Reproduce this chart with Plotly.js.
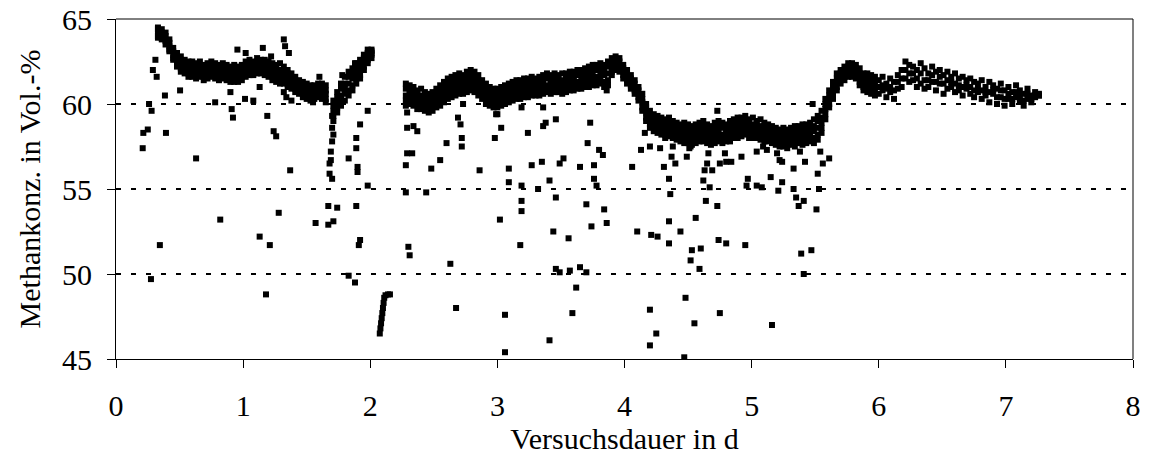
<!DOCTYPE html>
<html><head><meta charset="utf-8">
<script src="https://cdn.plot.ly/plotly-3.0.1.min.js"></script>
<style>html,body{margin:0;padding:0;background:#fff}#chart{width:1151px;height:463px}</style>
</head><body><div id="chart"></div>
<script>
// X axis / Y axis ticks
const xTicks = [0, 1, 2, 3, 4, 5, 6, 7, 8];
const yTicks = [45, 50, 55, 60, 65];

// Dense measurement band, segment 1 (0.33 - 1.65 d)
const days1 = [0.33,0.36,0.39,0.42,0.45,0.48,0.51,0.54,0.57,0.60,0.63,0.66,0.69,0.72,0.75,0.78,0.81,0.84,0.87,0.90,0.93,0.96,0.99,1.02,1.05,1.08,1.11,1.14,1.17,1.20,1.23,1.26,1.29,1.32,1.35,1.38,1.41,1.44,1.47,1.50,1.53,1.56,1.59,1.62,1.65];
const ch4_1a = [64.5,64.4,64.2,63.8,63.3,63.0,62.8,62.6,62.5,62.5,62.4,62.5,62.3,62.4,62.5,62.4,62.3,62.4,62.3,62.2,62.3,62.2,62.3,62.5,62.6,62.5,62.7,62.6,62.6,62.5,62.4,62.3,62.4,62.2,62.0,61.8,61.6,61.4,61.3,61.2,61.1,61.1,61.2,61.2,61.1];
const ch4_1d = [64.4,64.2,64.0,63.6,63.1,62.8,62.6,62.4,62.3,62.3,62.1,62.3,62.1,62.2,62.3,62.2,62.0,62.2,62.0,62.0,62.0,62.0,62.1,62.3,62.3,62.4,62.5,62.4,62.3,62.3,62.1,62.1,62.0,61.9,61.8,61.5,61.4,61.2,61.0,61.0,60.9,60.9,61.0,61.0,60.8];
const ch4_1b = [64.2,64.1,63.8,63.4,62.9,62.6,62.3,62.2,62.0,62.1,61.9,62.0,61.9,62.0,62.1,61.9,61.8,61.9,61.8,61.8,61.7,61.8,61.9,62.0,62.1,62.2,62.2,62.3,62.1,62.0,61.9,61.8,61.7,61.6,61.5,61.3,61.1,60.9,60.8,60.7,60.6,60.7,60.8,60.7,60.6];
const ch4_1e = [64.0,63.9,63.7,63.2,62.7,62.4,62.1,62.0,61.8,61.9,61.7,61.8,61.6,61.8,61.8,61.7,61.6,61.7,61.6,61.5,61.5,61.6,61.6,61.8,61.9,61.9,62.0,62.0,61.9,61.8,61.6,61.5,61.5,61.4,61.2,61.1,60.9,60.7,60.6,60.5,60.4,60.5,60.6,60.5,60.3];
const ch4_1c = [63.9,63.8,63.5,63.1,62.6,62.2,61.9,61.8,61.6,61.6,61.5,61.6,61.4,61.5,61.6,61.5,61.4,61.5,61.4,61.3,61.3,61.3,61.4,61.6,61.7,61.7,61.8,61.8,61.7,61.6,61.4,61.3,61.2,61.2,61.0,60.9,60.7,60.6,60.4,60.3,60.2,60.3,60.4,60.3,60.1];

// Segment 2: recovery ramp (1.71 - 2.01 d)
const days2 = [1.71,1.74,1.77,1.80,1.83,1.86,1.89,1.92,1.95,1.98,2.01];
const ch4_2a = [60.2,60.7,61.2,61.6,61.9,62.1,62.4,62.6,62.9,63.2,63.2];
const ch4_2d = [59.9,60.4,60.9,61.2,61.6,61.8,62.1,62.3,62.7,63.0,63.1];
const ch4_2b = [59.6,60.1,60.5,60.9,61.2,61.5,61.8,62.0,62.5,62.8,63.0];
const ch4_2e = [59.3,59.8,60.2,60.6,60.8,61.1,61.5,61.7,62.2,62.6,62.9];
const ch4_2c = [59.0,59.5,59.9,60.2,60.5,60.8,61.2,61.5,62.0,62.4,62.7];

// Segment 3 (2.28 - 5.55 d)
const days3 = [2.28,2.31,2.34,2.37,2.40,2.43,2.46,2.49,2.52,2.55,2.58,2.61,2.64,2.67,2.70,2.73,2.76,2.79,2.82,2.85,2.88,2.91,2.94,2.97,3.00,3.03,3.06,3.09,3.12,3.15,3.18,3.21,3.24,3.27,3.30,3.33,3.36,3.39,3.42,3.45,3.48,3.51,3.54,3.57,3.60,3.63,3.66,3.69,3.72,3.75,3.78,3.81,3.84,3.87,3.90,3.93,3.96,3.99,4.02,4.05,4.08,4.11,4.14,4.17,4.20,4.23,4.26,4.29,4.32,4.35,4.38,4.41,4.44,4.47,4.50,4.53,4.56,4.59,4.62,4.65,4.68,4.71,4.74,4.77,4.80,4.83,4.86,4.89,4.92,4.95,4.98,5.01,5.04,5.07,5.10,5.13,5.16,5.19,5.22,5.25,5.28,5.31,5.34,5.37,5.40,5.43,5.46,5.49,5.52,5.55];
const ch4_3a = [61.2,61.1,61.0,60.8,60.9,60.7,60.6,60.7,60.9,61.1, 61.3,61.5,61.6,61.7,61.8,61.7,61.9,62.0,61.9,61.7, 61.4,61.2,61.0,60.9,60.9,61.0,61.1,61.2,61.3,61.4, 61.4,61.5,61.5,61.6,61.5,61.6,61.7,61.8,61.7,61.8, 61.7,61.8,61.8,61.9,61.9,62.0,62.0,62.1,62.2,62.3, 62.3,62.4,62.3,62.5,62.7,62.8,62.7,62.3,62.0,61.7, 61.4,61.0,60.6,60.0,59.6,59.4,59.3,59.2,59.1,59.2, 59.0,58.9,58.8,58.9,58.8,58.7,58.8,58.9,59.0,58.8, 58.7,58.9,59.0,58.9,58.8,59.0,59.1,59.2,59.2,59.3, 59.1,59.2,59.0,59.1,58.9,58.8,58.7,58.6,58.5,58.6, 58.5,58.6,58.7,58.7,58.8,58.8,58.9,59.1,59.3,59.6];
const ch4_3d = [60.9,60.8,60.7,60.6,60.5,60.4,60.4,60.5,60.6,60.8, 61.0,61.2,61.3,61.4,61.5,61.4,61.6,61.7,61.6,61.4, 61.1,60.9,60.7,60.6,60.6,60.8,60.8,60.9,61.1,61.1, 61.1,61.2,61.2,61.3,61.3,61.3,61.5,61.5,61.4,61.5, 61.5,61.4,61.6,61.6,61.6,61.7,61.7,61.8,61.9,62.0, 62.0,62.1,62.0,62.2,62.4,62.6,62.5,62.1,61.8,61.5, 61.2,60.8,60.3,59.8,59.3,59.2,59.0,59.0,58.8,58.9, 58.7,58.6,58.5,58.6,58.5,58.5,58.5,58.6,58.7,58.6, 58.4,58.6,58.7,58.6,58.5,58.7,58.8,58.9,58.9,59.0, 58.9,58.8,58.8,58.7,58.7,58.5,58.5,58.4,58.3,58.3, 58.2,58.3,58.4,58.4,58.5,58.5,58.6,58.7,59.0,59.2];
const ch4_3b = [60.5,60.6,60.4,60.3,60.2,60.1,60.1,60.2,60.3,60.5, 60.7,60.9,61.0,61.1,61.2,61.1,61.3,61.4,61.3,61.1, 60.9,60.6,60.4,60.3,60.4,60.5,60.6,60.7,60.8,60.8, 60.9,60.9,60.9,61.0,61.0,61.1,61.2,61.1,61.2,61.2, 61.2,61.1,61.3,61.3,61.4,61.3,61.5,61.5,61.6,61.7, 61.6,61.8,61.7,61.8,62.2,62.4,62.3,61.9,61.6,61.3, 61.0,60.6,60.1,59.5,59.1,58.9,58.8,58.7,58.5,58.6, 58.5,58.3,58.3,58.3,58.2,58.2,58.3,58.3,58.4,58.3, 58.2,58.3,58.4,58.2,58.3,58.4,58.5,58.6,58.7,58.7, 58.6,58.5,58.5,58.4,58.4,58.3,58.2,58.1,58.0,58.0, 57.9,58.1,58.1,58.2,58.2,58.3,58.3,58.4,58.6,58.9];
const ch4_3e = [60.2,60.3,60.1,60.0,59.9,59.9,59.8,59.9,60.0,60.2, 60.4,60.6,60.7,60.8,60.9,60.8,61.0,61.1,61.0,60.8, 60.6,60.3,60.1,60.0,60.1,60.2,60.3,60.4,60.5,60.5, 60.6,60.6,60.7,60.7,60.8,60.8,60.9,60.9,60.9,60.9, 61.0,60.8,61.0,61.0,61.1,61.1,61.2,61.2,61.3,61.4, 61.3,61.5,61.3,61.4,61.9,62.2,62.1,61.7,61.4,61.1, 60.8,60.4,59.8,59.2,58.8,58.6,58.5,58.4,58.2,58.3, 58.2,58.1,58.0,58.0,57.9,57.9,58.0,58.0,58.1,58.0, 57.9,58.0,58.1,58.0,58.0,58.1,58.2,58.3,58.4,58.4, 58.3,58.2,58.2,58.1,58.1,58.0,57.9,57.8,57.7,57.7, 57.6,57.8,57.8,57.9,57.9,58.0,58.0,58.0,58.2,58.6];
const ch4_3c = [59.9,60.0,59.9,59.7,59.7,59.6,59.5,59.6,59.8,59.9, 60.1,60.3,60.4,60.5,60.6,60.6,60.7,60.8,60.7,60.5, 60.3,60.0,59.9,59.8,59.8,59.9,60.0,60.1,60.2,60.3, 60.3,60.4,60.4,60.5,60.5,60.5,60.6,60.7,60.6,60.7, 60.7,60.6,60.7,60.8,60.8,60.9,60.9,61.0,61.0,61.1, 61.1,61.2,61.0,61.1,61.7,62.0,61.9,61.5,61.2,60.9, 60.6,60.2,59.6,59.0,58.6,58.4,58.3,58.2,58.0,58.1, 58.0,57.9,57.8,57.7,57.7,57.6,57.7,57.8,57.8,57.7, 57.6,57.7,57.8,57.7,57.8,57.8,58.0,58.0,58.1,58.2, 58.0,58.0,58.0,57.9,57.8,57.8,57.7,57.6,57.5,57.5, 57.4,57.6,57.5,57.7,57.6,57.7,57.8,57.7,57.9,58.3];

// Segment 4: rise (5.58 - 5.97 d)
const days4 = [5.58,5.61,5.64,5.67,5.70,5.73,5.76,5.79,5.82,5.85,5.88,5.91,5.94,5.97];
const ch4_4a = [60.3,60.8,61.3,61.8,62.0,62.2,62.4,62.4,62.3,62.1,61.8,61.8,61.7,61.6];
const ch4_4d = [60.0,60.5,61.0,61.5,61.8,62.0,62.2,62.2,62.1,61.8,61.5,61.5,61.4,61.3];
const ch4_4b = [59.7,60.3,60.8,61.3,61.6,61.8,62.0,62.0,61.9,61.6,61.3,61.2,61.1,61.0];
const ch4_4e = [59.4,60.0,60.5,61.0,61.4,61.6,61.8,61.8,61.7,61.3,61.0,61.0,60.8,60.7];
const ch4_4c = [59.1,59.8,60.3,60.8,61.2,61.4,61.6,61.6,61.5,61.1,60.8,60.7,60.6,60.5];

// Segment 5 (6.00 - 7.26 d)
const days5 = [6.00,6.03,6.06,6.09,6.12,6.15,6.18,6.21,6.24,6.27,6.30,6.33,6.36,6.39,6.42,6.45,6.48,6.51,6.54,6.57,6.60,6.63,6.66,6.69,6.72,6.75,6.78,6.81,6.84,6.87,6.90,6.93,6.96,6.99,7.02,7.05,7.08,7.11,7.14,7.17,7.20,7.23,7.26];
const ch4_5a = [61.4,61.6,61.2,61.5,61.3,61.7,62.0,62.5,62.3,62.2, 62.0,62.4,62.1,61.8,62.2,61.9,62.0,61.7,61.9,61.6, 61.8,61.5,61.6,61.4,61.5,61.3,61.2,61.4,61.0,61.3, 61.1,60.9,61.2,60.8,61.0,60.7,61.1,60.8,60.6,60.9, 60.5,60.7,60.6];
const ch4_5c = [61.0,61.1,60.9,61.0,60.8,61.3,61.5,62.0,61.8,61.8, 61.5,61.8,61.4,61.4,61.7,61.3,61.6,61.2,61.4,61.3, 61.2,61.1,61.0,61.1,61.0,60.8,60.9,60.8,60.7,60.7, 60.8,60.4,60.8,60.3,60.6,60.3,60.7,60.5,60.2,60.6, 60.3,60.5,60.5];
const ch4_5b = [60.6,60.8,60.4,60.7,60.3,60.9,61.0,61.5,61.3,61.4, 61.0,61.2,60.9,61.0,61.3,60.8,61.2,60.6,60.9,61.0, 60.7,60.8,60.5,60.9,60.6,60.4,60.7,60.3,60.5,60.1, 60.6,60.0,60.4,59.9,60.3,60.0,60.4,60.2,59.9,60.3, 60.1,60.4,60.5];

// Scattered individual readings (outliers)
const outDays = [0.21,0.215,0.25,0.275,0.26,0.28,0.29,0.31,0.32,0.345,0.385,0.393,0.504,0.63,0.78,0.82,0.90,0.91,0.92,0.955,1.02,1.015,1.08,1.13,1.155,1.13,1.21,1.18,1.19,1.24,1.26,1.28,1.22,1.32,1.33,1.36,1.37,1.32,1.34,1.38,1.55,1.60,1.57,
  1.67,1.74,1.67,1.71,1.70,1.70,1.70,1.69,1.68,1.68,1.70,1.69,1.71,1.78,1.83,1.88,1.89,1.89,1.90,1.90,1.92,1.98,1.98,1.89,1.92,1.91,1.83,1.88,
  2.075,2.08,2.085,2.09,2.095,2.10,2.105,2.11,2.12,2.14,2.155,
  2.29,2.29,2.34,2.37,2.29,2.33,2.28,2.28,2.44,2.48,2.55,2.60,2.30,2.31,2.63,2.675,2.71,2.72,2.72,2.69,2.73,2.86,2.98,3.03,3.00,3.02,3.06,3.06,3.09,3.09,3.19,3.19,3.19,3.19,3.18,3.24,3.27,3.32,3.35,3.36,3.38,3.36,3.41,3.41,3.44,3.46,3.46,3.46,3.49,3.49,3.52,3.56,3.57,3.59,3.62,3.65,3.70,3.65,3.70,3.71,3.73,3.74,3.76,3.76,3.78,3.80,3.83,3.84,3.86,3.86,2.99,
  4.06,4.13,4.16,4.10,4.20,4.20,4.25,4.21,4.26,4.20,4.28,4.31,4.35,4.35,4.35,4.36,4.37,4.40,4.38,4.44,4.48,4.47,4.49,4.52,4.53,4.52,4.55,4.56,4.59,4.60,4.62,4.63,4.64,4.66,4.65,4.67,4.69,4.73,4.74,4.80,4.75,4.75,4.80,4.84,4.79,4.92,4.95,4.97,4.96,5.04,5.08,5.04,5.09,5.12,5.15,5.16,5.21,5.24,5.20,5.22,5.24,5.33,5.33,5.35,5.41,5.37,5.39,5.47,5.41,5.38,5.42,5.51,5.52,5.53,5.54,5.56,5.61,4.51,4.73,5.48];
const outCh4 = [57.4,58.3,58.5,49.7,60.0,59.6,62.0,62.6,61.6,51.7,60.5,58.3,60.8,56.8,60.1,53.2,60.7,59.7,59.2,63.2,63.0,60.3,60.2,61.0,63.3,52.2,51.7,48.8,59.3,58.4,58.1,53.6,62.8,63.8,63.4,63.0,56.1,60.7,60.4,60.2,60.1,61.6,53.0,
  54.0,53.9,52.9,53.1,59.3,58.6,57.8,56.7,56.5,55.9,55.6,57.2,58.2,61.7,56.8,62.4,58.0,57.4,56.3,56.0,58.8,59.6,55.2,54.0,52.0,51.7,49.9,49.5,
  46.5,46.8,47.1,47.4,47.7,48.0,48.3,48.6,48.75,48.8,48.8,
  59.5,58.6,58.7,58.4,57.1,57.1,56.4,54.8,54.8,56.2,56.7,57.7,51.6,51.1,50.6,48.0,58.8,58.0,57.5,59.2,60.0,56.1,58.0,58.6,59.4,53.2,47.6,45.4,56.2,55.4,59.8,55.2,54.3,53.7,51.7,58.3,56.4,55.0,56.6,58.7,58.9,59.8,55.5,46.1,52.5,59.1,54.5,50.3,50.1,56.5,56.8,52.1,50.2,47.7,49.2,50.4,50.1,56.3,54.1,57.7,58.9,52.8,56.4,55.6,55.2,57.3,57.0,53.8,53.0,60.8,59.4,
  56.3,57.3,58.3,52.5,47.9,45.8,46.5,52.3,52.2,57.5,57.4,56.3,51.8,53.1,55.6,54.7,56.9,56.5,57.5,52.5,48.6,45.1,56.9,57.5,51.4,50.8,47.1,53.3,50.3,51.5,55.5,56.1,54.3,57.1,56.5,55.1,56.1,54.0,52.0,51.8,47.7,56.5,56.6,56.6,57.1,56.9,51.7,55.6,55.2,55.2,55.1,57.2,57.5,57.3,55.7,47.0,54.9,55.4,57.1,56.7,56.6,56.2,55.0,54.5,54.3,54.0,51.2,51.4,50.0,57.2,56.6,53.8,55.9,55.0,57.2,56.5,56.8,57.4,59.6,60.0];

const xs = [], ys = [];
function addSeries(days, values) {
  for (let i = 0; i < days.length; i++) { xs.push(days[i]); ys.push(values[i]); }
}
[ch4_1a, ch4_1d, ch4_1b, ch4_1e, ch4_1c].forEach(v => addSeries(days1, v));
[ch4_2a, ch4_2d, ch4_2b, ch4_2e, ch4_2c].forEach(v => addSeries(days2, v));
[ch4_3a, ch4_3d, ch4_3b, ch4_3e, ch4_3c].forEach(v => addSeries(days3, v));
[ch4_4a, ch4_4d, ch4_4b, ch4_4e, ch4_4c].forEach(v => addSeries(days4, v));
[ch4_5a, ch4_5c, ch4_5b].forEach(v => addSeries(days5, v));
addSeries(outDays, outCh4);

const fontFam = '"Liberation Serif", "Times New Roman", serif';
const trace = {
  type: 'scatter', mode: 'markers', x: xs, y: ys,
  marker: { symbol: 'square', size: 6, color: '#000', line: { width: 0 } },
  hoverinfo: 'skip'
};
const layout = {
  width: 1151, height: 463,
  margin: { l: 116, r: 18, t: 19, b: 104 },
  paper_bgcolor: '#fff', plot_bgcolor: '#fff',
  showlegend: false,
  font: { family: fontFam, size: 30, color: '#000' },
  xaxis: {
    range: [0, 8], tickvals: xTicks, ticktext: xTicks.map(String),
    ticks: 'outside', ticklen: 8, tickwidth: 1, tickcolor: '#000',
    showline: true, linecolor: '#000', linewidth: 1,
    showgrid: false, zeroline: false,
    ticklabelstandoff: 12,
    tickfont: { family: fontFam, size: 30 },
    title: { text: 'Versuchsdauer in d', font: { family: fontFam, size: 30 }, standoff: 2 }
  },
  yaxis: {
    range: [45, 65], tickvals: yTicks, ticktext: yTicks.map(String),
    ticks: 'outside', ticklen: 8, tickwidth: 1, tickcolor: '#000',
    showline: true, linecolor: '#000', linewidth: 1,
    showgrid: true, gridcolor: '#000', gridwidth: 2.5, griddash: '5px,10px',
    zeroline: false,
    ticklabelstandoff: 9,
    tickfont: { family: fontFam, size: 30 },
    title: { text: 'Methankonz. in Vol.-%', font: { family: fontFam, size: 30 }, standoff: 12 }
  },
  shapes: [
    { type: 'line', xref: 'paper', yref: 'paper', x0: 1, x1: 1, y0: 0, y1: 1, line: { color: '#808080', width: 2 } },
    { type: 'line', xref: 'paper', yref: 'paper', x0: 0, x1: 1, y0: 1, y1: 1, line: { color: '#000', width: 1 } }
  ]
};
Plotly.newPlot('chart', [trace], layout, { staticPlot: true, displayModeBar: false });
</script>
</body></html>
